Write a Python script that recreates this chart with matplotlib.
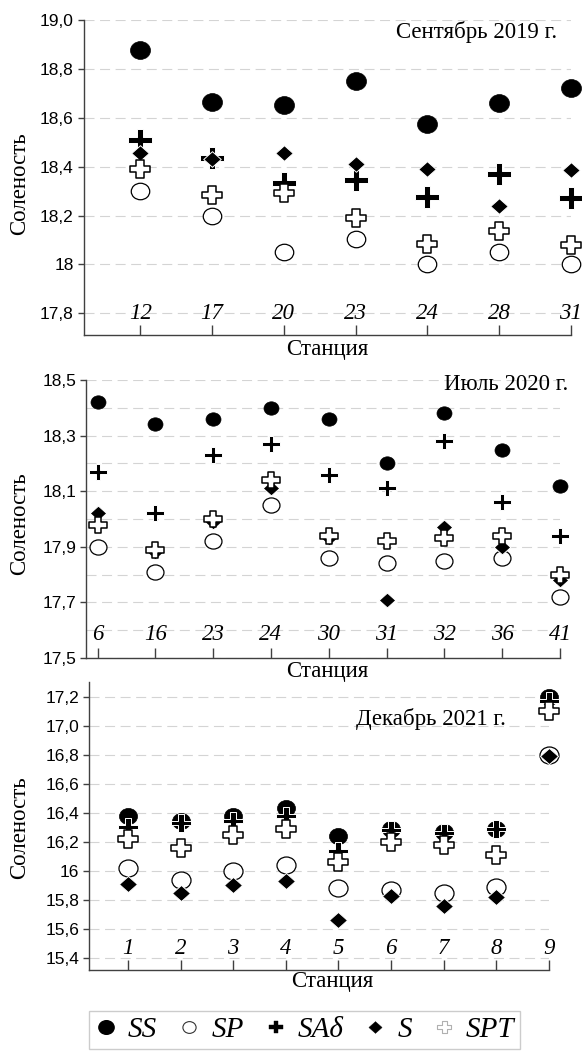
import numpy as np
import matplotlib
matplotlib.use('Agg')
import matplotlib.pyplot as plt
from matplotlib.path import Path
from matplotlib.lines import Line2D

# Соленость по станциям (SS, SP, SAδ, S, SPT)

# Сентябрь 2019
st_2019 = ['12', '17', '20', '23', '24', '28', '31']
ss_2019 = [18.877, 18.665, 18.652, 18.75, 18.573, 18.659, 18.72]
sp_2019 = [18.30, 18.20, 18.051, 18.102, 18.0, 18.051, 18.003]
sa_2019 = [18.51, 18.437, 18.331, 18.345, 18.276, 18.369, 18.27]
s_2019 = [18.454, 18.433, 18.457, 18.409, 18.392, 18.238, 18.386]
spt_2019 = [18.39, 18.283, 18.293, 18.188, 18.085, 18.136, 18.081]

# Июль 2020
st_2020 = ['6', '16', '23', '24', '30', '31', '32', '36', '41']
ss_2020 = [18.42, 18.34, 18.36, 18.40, 18.36, 18.20, 18.38, 18.25, 18.12]
sp_2020 = [17.90, 17.81, 17.92, 18.05, 17.86, 17.84, 17.85, 17.86, 17.72]
sa_2020 = [18.17, 18.02, 18.23, 18.27, 18.16, 18.11, 18.28, 18.06, 17.94]
s_2020 = [18.02, 17.88, 17.99, 18.11, 17.93, 17.71, 17.97, 17.90, 17.78]
spt_2020 = [17.98, 17.89, 18.00, 18.14, 17.94, 17.92, 17.93, 17.94, 17.80]

# Декабрь 2021
st_2021 = ['1', '2', '3', '4', '5', '6', '7', '8', '9']
ss_2021 = [16.38, 16.34, 16.38, 16.43, 16.24, 16.29, 16.27, 16.29, 17.20]
sp_2021 = [16.02, 15.94, 16.00, 16.04, 15.88, 15.87, 15.85, 15.89, 16.80]
sa_2021 = [16.30, 16.33, 16.34, 16.38, 16.14, 16.28, 16.26, 16.29, 17.17]
s_2021 = [15.91, 15.85, 15.90, 15.93, 15.66, 15.83, 15.76, 15.82, 16.79]
spt_2021 = [16.22, 16.16, 16.25, 16.29, 16.06, 16.20, 16.18, 16.11, 17.10]

ticks_2019 = [19.0, 18.8, 18.6, 18.4, 18.2, 18.0, 17.8]
tlab_2019 = ['19,0', '18,8', '18,6', '18,4', '18,2', '18', '17,8']
ticks_2020 = [18.5, 18.3, 18.1, 17.9, 17.7, 17.5]
tlab_2020 = ['18,5', '18,3', '18,1', '17,9', '17,7', '17,5']
ticks_2021 = [17.2, 17.0, 16.8, 16.6, 16.4, 16.2, 16.0, 15.8, 15.6, 15.4]
tlab_2021 = ['17,2', '17,0', '16,8', '16,6', '16,4', '16,2', '16', '15,8', '15,6', '15,4']

names = ['SS', 'SP', 'SAδ', 'S', 'SPT']

W, H = 582, 1056
SERIF = 'Liberation Serif'
SANS = 'Liberation Sans'
SX = 1.12  # маркеры чуть растянуты по горизонтали, как в оригинале


def stretch(verts):
    v = np.array(verts, float) * [SX, 1]
    return Path(v, closed=True)


def plus_path(t):
    a = t
    return stretch([(-a, 1), (a, 1), (a, a), (1, a), (1, -a), (a, -a), (a, -1),
                    (-a, -1), (-a, -a), (-1, -a), (-1, a), (-a, a), (-a, 1)])


uc = Path.unit_circle()
CIRCLE = Path(uc.vertices * [SX, 1], uc.codes)
DIAMOND = stretch([(0, 1), (1, 0), (0, -1), (-1, 0), (0, 1)])
BPLUS = plus_path(0.27)
OPLUS = plus_path(0.36)


def fig_box(x0, y0, x1, y1):
    return [x0 / W, 1 - y1 / H, (x1 - x0) / W, (y1 - y0) / H]


fig = plt.figure(figsize=(W / 100, H / 100), dpi=100)


def panel(box, st, ss, sp, sa, s, spt, ylim, ticks, tlabels, grid, lab_y,
          title, title_xy, xlab_xy, ylab_xy, xleft, sz):
    ax = fig.add_axes(fig_box(*box))
    x = np.arange(len(st))
    ax.set_xlim(xleft, len(st) - 1)
    ax.set_ylim(*ylim)
    for sp_name in ['top', 'right']:
        ax.spines[sp_name].set_visible(False)
    for sp_name in ['left', 'bottom']:
        ax.spines[sp_name].set_color('#404040')
        ax.spines[sp_name].set_linewidth(1.0)
    ax.set_yticks(ticks)
    ax.set_yticklabels(tlabels, family=SANS, fontsize=12.5)
    ax.set_yticks(grid, minor=True)
    ax.tick_params(axis='y', which='major', length=4, width=1, color='#404040', pad=3)
    ax.tick_params(axis='y', which='minor', length=0)
    ax.set_xticks(x)
    ax.set_xticklabels([])
    ax.tick_params(axis='x', direction='in', length=7, width=1, color='#404040')
    ax.grid(axis='y', which='both', color='#d4d4d4', linestyle=(0, (9, 5)), linewidth=0.8)
    ax.set_axisbelow(True)

    kw = dict(ls='none', clip_on=False)
    ax.plot(x, ss, marker=CIRCLE, ms=sz[0], mfc='black', mec='black', mew=0.5, zorder=3, **kw)
    ax.plot(x, sp, marker=CIRCLE, ms=sz[1], mfc='white', mec='black', mew=0.9, zorder=4, **kw)
    ax.plot(x, sa, marker=BPLUS, ms=sz[2], mfc='black', mec='white', mew=0.7, zorder=5, **kw)
    ax.plot(x, s, marker=DIAMOND, ms=sz[3], mfc='black', mec='white', mew=0.7, zorder=6, **kw)
    ax.plot(x, spt, marker=OPLUS, ms=sz[4], mfc='white', mec='black', mew=1.1, zorder=7, **kw)

    for xi, name in zip(x, st):
        ax.text(xi, lab_y, name, ha='center', va='center', family=SERIF,
                style='italic', fontsize=16.5, zorder=2)

    fig.text(title_xy[0] / W, 1 - title_xy[1] / H, title, ha='right', va='center',
             family=SERIF, fontsize=16.5)
    fig.text(xlab_xy[0] / W, 1 - xlab_xy[1] / H, 'Станция', ha='center', va='center',
             family=SERIF, fontsize=16.5)
    fig.text(ylab_xy[0] / W, 1 - ylab_xy[1] / H, 'Соленость', ha='center', va='center',
             rotation=90, family=SERIF, fontsize=16.5)
    return ax


panel((83.5, 20, 571, 335), st_2019, ss_2019, sp_2019, sa_2019, s_2019, spt_2019,
      (17.711, 19.0), ticks_2019, tlab_2019, np.arange(17.8, 19.01, 0.2), 17.8,
      'Сентябрь 2019 г.', (557, 32), (327, 350), (20, 184), -0.79,
      (14.4, 13.3, 17.3, 12.6, 14.4))

panel((86, 380, 560, 658), st_2020, ss_2020, sp_2020, sa_2020, s_2020, spt_2020,
      (17.5, 18.5), ticks_2020, tlab_2020, np.arange(17.6, 18.51, 0.1), 17.585,
      'Июль 2020 г.', (568, 385), (327, 672), (20, 524), -0.2,
      (10.8, 12.2, 13.3, 11.9, 13.3))

panel((89, 682, 549, 970), st_2021, ss_2021, sp_2021, sa_2021, s_2021, spt_2021,
      (15.318, 17.3), ticks_2021, tlab_2021, np.arange(15.4, 17.21, 0.2), 15.468,
      'Декабрь 2021 г.', (506, 719), (332, 982), (20, 828), -0.74,
      (13.0, 13.7, 14.4, 13.0, 14.4))

# легенда
handles = [
    Line2D([], [], ls='none', marker=CIRCLE, ms=11, mfc='black', mec='black'),
    Line2D([], [], ls='none', marker=CIRCLE, ms=9.5, mfc='white', mec='#333333', mew=0.8),
    Line2D([], [], ls='none', marker=BPLUS, ms=10, mfc='black', mec='black', mew=0.3),
    Line2D([], [], ls='none', marker=DIAMOND, ms=9.5, mfc='black', mec='black', mew=0.3),
    Line2D([], [], ls='none', marker=OPLUS, ms=10, mfc='white', mec='#b0b0b0', mew=0.8),
]
leg = fig.legend(handles, names, loc='center', bbox_to_anchor=(304.5 / W, 1 - 1030 / H),
                 ncol=5, frameon=True, fancybox=False, edgecolor='#c0c0c0',
                 prop=dict(family=SERIF, style='italic', size=21),
                 handlelength=0.8, handletextpad=0.35, columnspacing=0.7,
                 borderpad=0.2, borderaxespad=0)
leg.get_frame().set_linewidth(1.0)

fig.savefig('out.png', dpi=100, facecolor='white')
